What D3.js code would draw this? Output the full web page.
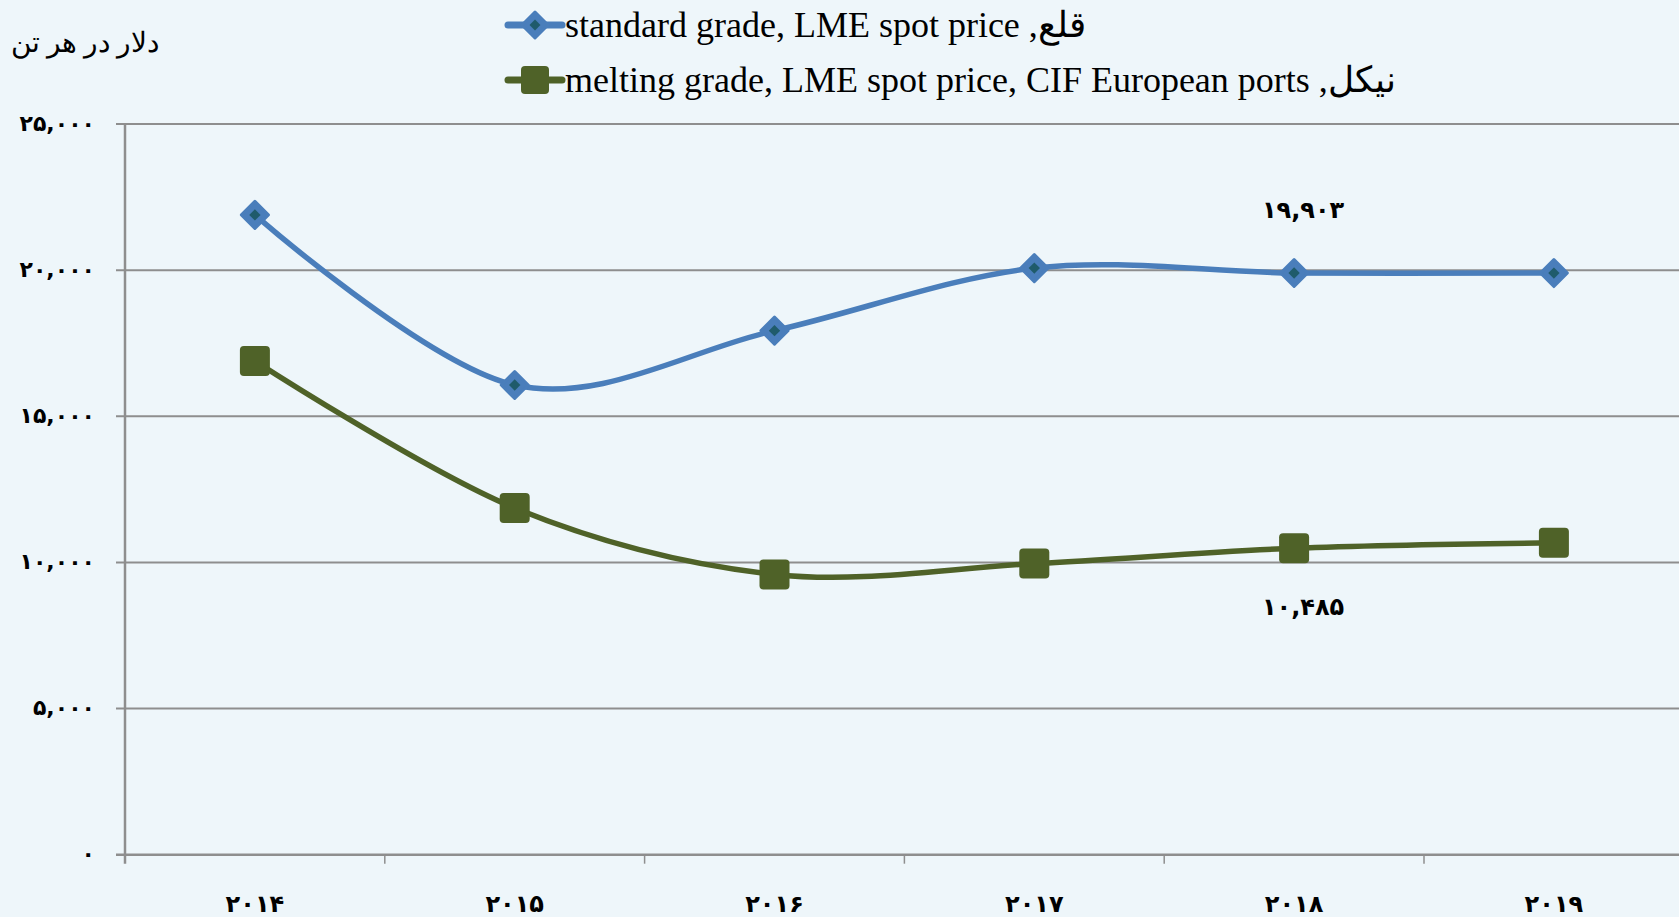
<!DOCTYPE html>
<html>
<head>
<meta charset="utf-8">
<script src="https://cdn.jsdelivr.net/npm/d3@7"></script>
<style>
  html, body { margin: 0; padding: 0; background: #eef6fa; }
  svg { display: block; }
</style>
</head>
<body>
<svg id="chart" width="1679" height="917"></svg>
<script>
const years = ["2014", "2015", "2016", "2017", "2018", "2019"];
const tin = [21890, 16070, 17930, 20070, 19903, 19900];
const nickel = [16890, 11860, 9590, 9960, 10485, 10670];
const yTicks = [0, 5000, 10000, 15000, 20000, 25000];
const seriesNames = [
  "standard grade, LME spot price ,قلع",
  "melting grade, LME spot price, CIF European ports ,نیکل"
];
const unitLabel = "دلار در هر تن";

const faDigits = "۰۱۲۳۴۵۶۷۸۹";
const toFa = (s) => String(s).replace(/[0-9]/g, (c) => faDigits[+c]);
const fmt = (v) => toFa(d3.format(",")(v));

const width = 1679, height = 917;
const margin = { top: 124, left: 125, bottom: 854.7 };
const band = 259.8;

const svg = d3.select("#chart");
svg.append("rect").attr("width", width).attr("height", height).attr("fill", "#eef6fa");

const x = d3.scalePoint().domain(years).range([margin.left + band / 2, margin.left + band * 5.5]);
const y = d3.scaleLinear().domain([0, 25000]).range([margin.bottom, margin.top]);
const xEdge = margin.left + band * years.length;

// grid
svg.append("g")
  .selectAll("line")
  .data(yTicks)
  .join("line")
  .attr("x1", margin.left - 9)
  .attr("x2", xEdge)
  .attr("y1", (d) => y(d))
  .attr("y2", (d) => y(d))
  .attr("stroke", "#8e8e8e")
  .attr("stroke-width", (d) => (d === 0 ? 2.5 : 2));

// y axis line
svg.append("line")
  .attr("x1", margin.left).attr("x2", margin.left)
  .attr("y1", y(25000)).attr("y2", margin.bottom + 9)
  .attr("stroke", "#8e8e8e").attr("stroke-width", 2.5);

// x ticks between categories
svg.append("g")
  .selectAll("line")
  .data(d3.range(1, years.length + 1))
  .join("line")
  .attr("x1", (i) => margin.left + band * i)
  .attr("x2", (i) => margin.left + band * i)
  .attr("y1", margin.bottom)
  .attr("y2", margin.bottom + 9)
  .attr("stroke", "#8e8e8e").attr("stroke-width", 1.5);

// y tick labels
svg.append("g")
  .selectAll("text")
  .data(yTicks)
  .join("text")
  .attr("x", 95)
  .attr("y", (d) => y(d))
  .attr("dy", "0.3em")
  .attr("text-anchor", "end")
  .attr("font-family", "DejaVu Sans")
  .attr("font-weight", "bold")
  .attr("font-size", 22)
  .attr("letter-spacing", 7.5)
  .attr("fill", "#000")
  .text((d) => fmt(d));

// x labels
svg.append("g")
  .selectAll("text")
  .data(years)
  .join("text")
  .attr("x", (d) => x(d))
  .attr("y", 912)
  .attr("text-anchor", "middle")
  .attr("font-family", "DejaVu Sans")
  .attr("font-weight", "bold")
  .attr("font-size", 24)
  .attr("fill", "#000")
  .text((d) => toFa(d));

// unit label
svg.append("text")
  .attr("x", 85).attr("y", 52)
  .attr("text-anchor", "middle")
  .attr("font-family", "Liberation Serif")
  .attr("font-size", 28)
  .attr("fill", "#000")
  .text(unitLabel);

const line = d3.line()
  .x((d, i) => x(years[i]))
  .y((d) => y(d))
  .curve(d3.curveCardinal.tension(0));

const tinColor = "#4a7ebb", tinInner = "#1f5b6b", niColor = "#4f6228";

function diamond(g, cx, cy, s) {
  g.append("path")
    .attr("d", `M${cx},${cy - s}L${cx + s},${cy}L${cx},${cy + s}L${cx - s},${cy}Z`)
    .attr("fill", tinColor).attr("stroke", tinColor).attr("stroke-width", 3).attr("stroke-linejoin", "round");
  g.append("path")
    .attr("d", `M${cx},${cy - s * 0.42}L${cx + s * 0.42},${cy}L${cx},${cy + s * 0.42}L${cx - s * 0.42},${cy}Z`)
    .attr("fill", tinInner);
}
function square(g, cx, cy, s) {
  g.append("rect")
    .attr("x", cx - s / 2).attr("y", cy - s / 2)
    .attr("width", s).attr("height", s)
    .attr("rx", 4)
    .attr("fill", niColor);
}

svg.append("path").datum(nickel).attr("d", line)
  .attr("fill", "none").attr("stroke", niColor).attr("stroke-width", 5.5);
svg.append("path").datum(tin).attr("d", line)
  .attr("fill", "none").attr("stroke", tinColor).attr("stroke-width", 5.5);

const mk = svg.append("g");
nickel.forEach((v, i) => square(mk, x(years[i]), y(v), 30));
tin.forEach((v, i) => diamond(mk, x(years[i]), y(v), 13.5));

// data labels
const labelStyle = (t) => t
  .attr("text-anchor", "middle")
  .attr("font-family", "DejaVu Sans").attr("font-weight", "bold")
  .attr("font-size", 24).attr("letter-spacing", 4);
svg.append("text")
  .attr("x", x("2018") + 9).attr("y", y(tin[4]) - 55)
  .call(labelStyle)
  .text(fmt(tin[4]));
svg.append("text")
  .attr("x", x("2018") + 9).attr("y", y(nickel[4]) + 67)
  .call(labelStyle)
  .text(fmt(nickel[4]));

// legend
const legend = svg.append("g");
[0, 1].forEach((i) => {
  const cy = i === 0 ? 25 : 80;
  legend.append("line")
    .attr("x1", 508).attr("x2", 562).attr("y1", cy).attr("y2", cy)
    .attr("stroke", i === 0 ? tinColor : niColor).attr("stroke-width", 7).attr("stroke-linecap", "round");
  if (i === 0) diamond(legend, 535, cy, 13);
  else square(legend, 535, cy, 28);
  legend.append("text")
    .attr("x", 565).attr("y", cy)
    .attr("dy", "0.33em")
    .attr("direction", "ltr")
    .attr("font-family", "Liberation Serif")
    .attr("font-size", 36)
    .attr("fill", "#000")
    .text(seriesNames[i]);
});
</script>
</body>
</html>
